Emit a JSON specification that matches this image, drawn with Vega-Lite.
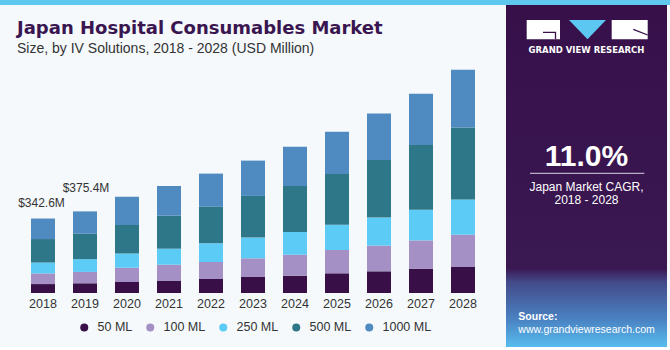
{
  "$schema": "https://vega.github.io/schema/vega-lite/v6.json",
  "background": "#f5f9fc",
  "padding": 0,
  "spacing": 0,
  "bounds": "flush",
  "config": {
    "view": {"stroke": null},
    "font": "Liberation Sans",
    "concat": {"spacing": 0}
  },
  "vconcat": [
    {
      "width": 670,
      "height": 5,
      "data": {"values": [{}]},
      "mark": {"type": "rect", "fill": "#5ec8ef"},
      "encoding": {}
    },
    {
      "spacing": 0,
      "bounds": "flush",
      "hconcat": [
        {
          "width": 506,
          "height": 288,
          "title": {
            "text": "Japan Hospital Consumables Market",
            "subtitle": "Size, by IV Solutions, 2018 - 2028 (USD Million)",
            "anchor": "start",
            "frame": "group",
            "orient": "top",
            "offset": -51,
            "dx": 17,
            "font": "DejaVu Sans",
            "fontSize": 18,
            "fontWeight": "bold",
            "color": "#3a1650",
            "subtitleFont": "Liberation Sans",
            "subtitleFontSize": 14,
            "subtitleColor": "#333333",
            "subtitlePadding": 4
          },
          "layer": [
            {
              "data": {"values": [
                {"year": "2018", "series": "50 ML", "ml": 50, "value": 41.1},
                {"year": "2018", "series": "100 ML", "ml": 100, "value": 48.8},
                {"year": "2018", "series": "250 ML", "ml": 250, "value": 50.2},
                {"year": "2018", "series": "500 ML", "ml": 500, "value": 108.1},
                {"year": "2018", "series": "1000 ML", "ml": 1000, "value": 94.4},
                {"year": "2019", "series": "50 ML", "ml": 50, "value": 44.8},
                {"year": "2019", "series": "100 ML", "ml": 100, "value": 52.2},
                {"year": "2019", "series": "250 ML", "ml": 250, "value": 58.6},
                {"year": "2019", "series": "500 ML", "ml": 500, "value": 116.8},
                {"year": "2019", "series": "1000 ML", "ml": 1000, "value": 103.0},
                {"year": "2020", "series": "50 ML", "ml": 50, "value": 50.6},
                {"year": "2020", "series": "100 ML", "ml": 100, "value": 65.8},
                {"year": "2020", "series": "250 ML", "ml": 250, "value": 65.8},
                {"year": "2020", "series": "500 ML", "ml": 500, "value": 130.2},
                {"year": "2020", "series": "1000 ML", "ml": 1000, "value": 130.2},
                {"year": "2021", "series": "50 ML", "ml": 50, "value": 55.2},
                {"year": "2021", "series": "100 ML", "ml": 100, "value": 75.0},
                {"year": "2021", "series": "250 ML", "ml": 250, "value": 73.6},
                {"year": "2021", "series": "500 ML", "ml": 500, "value": 151.8},
                {"year": "2021", "series": "1000 ML", "ml": 1000, "value": 136.6},
                {"year": "2022", "series": "50 ML", "ml": 50, "value": 64.4},
                {"year": "2022", "series": "100 ML", "ml": 100, "value": 78.2},
                {"year": "2022", "series": "250 ML", "ml": 250, "value": 86.0},
                {"year": "2022", "series": "500 ML", "ml": 500, "value": 168.8},
                {"year": "2022", "series": "1000 ML", "ml": 1000, "value": 151.8},
                {"year": "2023", "series": "50 ML", "ml": 50, "value": 73.6},
                {"year": "2023", "series": "100 ML", "ml": 100, "value": 86.0},
                {"year": "2023", "series": "250 ML", "ml": 250, "value": 95.2},
                {"year": "2023", "series": "500 ML", "ml": 500, "value": 191.8},
                {"year": "2023", "series": "1000 ML", "ml": 1000, "value": 162.4},
                {"year": "2024", "series": "50 ML", "ml": 50, "value": 79.6},
                {"year": "2024", "series": "100 ML", "ml": 100, "value": 96.6},
                {"year": "2024", "series": "250 ML", "ml": 250, "value": 104.4},
                {"year": "2024", "series": "500 ML", "ml": 500, "value": 211.6},
                {"year": "2024", "series": "1000 ML", "ml": 1000, "value": 180.8},
                {"year": "2025", "series": "50 ML", "ml": 50, "value": 90.6},
                {"year": "2025", "series": "100 ML", "ml": 100, "value": 107.2},
                {"year": "2025", "series": "250 ML", "ml": 250, "value": 116.4},
                {"year": "2025", "series": "500 ML", "ml": 500, "value": 233.2},
                {"year": "2025", "series": "1000 ML", "ml": 1000, "value": 194.6},
                {"year": "2026", "series": "50 ML", "ml": 50, "value": 99.8},
                {"year": "2026", "series": "100 ML", "ml": 100, "value": 118.2},
                {"year": "2026", "series": "250 ML", "ml": 250, "value": 128.8},
                {"year": "2026", "series": "500 ML", "ml": 500, "value": 265.4},
                {"year": "2026", "series": "1000 ML", "ml": 1000, "value": 213.0},
                {"year": "2027", "series": "50 ML", "ml": 50, "value": 111.8},
                {"year": "2027", "series": "100 ML", "ml": 100, "value": 130.2},
                {"year": "2027", "series": "250 ML", "ml": 250, "value": 141.2},
                {"year": "2027", "series": "500 ML", "ml": 500, "value": 297.6},
                {"year": "2027", "series": "1000 ML", "ml": 1000, "value": 236.0},
                {"year": "2028", "series": "50 ML", "ml": 50, "value": 119.6},
                {"year": "2028", "series": "100 ML", "ml": 100, "value": 148.6},
                {"year": "2028", "series": "250 ML", "ml": 250, "value": 162.4},
                {"year": "2028", "series": "500 ML", "ml": 500, "value": 331.2},
                {"year": "2028", "series": "1000 ML", "ml": 1000, "value": 265.4}
              ]},
              "mark": {"type": "bar"},
              "encoding": {
                "x": {
                  "field": "year",
                  "type": "ordinal",
                  "scale": {"paddingInner": 0.428571, "paddingOuter": 0.738095},
                  "axis": {
                    "title": null,
                    "domain": false,
                    "ticks": false,
                    "labelAngle": 0,
                    "labelFont": "Liberation Sans",
                    "labelFontSize": 12.5,
                    "labelColor": "#333333",
                    "labelPadding": 4.5
                  }
                },
                "y": {
                  "field": "value",
                  "type": "quantitative",
                  "stack": "zero",
                  "scale": {"domain": [0, 1324.8], "nice": false, "zero": true},
                  "axis": null
                },
                "color": {
                  "field": "series",
                  "type": "nominal",
                  "scale": {
                    "domain": ["50 ML", "100 ML", "250 ML", "500 ML", "1000 ML"],
                    "range": ["#380f47", "#a490c5", "#5ccbf5", "#2e7789", "#4f8bc0"]
                  },
                  "legend": {
                    "title": null,
                    "orient": "none",
                    "direction": "horizontal",
                    "legendX": 78,
                    "legendY": 321,
                    "padding": 0,
                    "symbolType": "circle",
                    "symbolSize": 64,
                    "symbolStrokeWidth": 0,
                    "symbolOpacity": 1,
                    "labelFont": "Liberation Sans",
                    "labelFontSize": 12.5,
                    "labelColor": "#333333",
                    "labelOffset": 7,
                    "columnPadding": 11
                  }
                },
                "order": {"field": "ml", "type": "quantitative", "sort": "ascending"}
              }
            },
            {
              "data": {"values": [{"year": "2018", "total": 342.6, "label": "$342.6M"}]},
              "mark": {"type": "text", "baseline": "alphabetic", "dy": -11.5, "dx": -1.5, "fontSize": 12, "color": "#333333", "font": "Liberation Sans"},
              "encoding": {
                "x": {"field": "year", "type": "ordinal"},
                "y": {"field": "total", "type": "quantitative"},
                "text": {"field": "label"}
              }
            },
            {
              "data": {"values": [{"year": "2019", "total": 375.4, "label": "$375.4M"}]},
              "mark": {"type": "text", "baseline": "alphabetic", "dy": -19.4, "dx": 1, "fontSize": 12, "color": "#333333", "font": "Liberation Sans"},
              "encoding": {
                "x": {"field": "year", "type": "ordinal"},
                "y": {"field": "total", "type": "quantitative"},
                "text": {"field": "label"}
              }
            }
          ]
        },
        {
          "width": 161,
          "height": 342,
          "view": {"fill": "#38104a", "stroke": null},
          "layer": [
            {
              "data": {"values": [{}]},
              "mark": {
                "type": "rect",
                "fill": {
                  "gradient": "linear",
                  "x1": 0, "y1": 0, "x2": 0, "y2": 1,
                  "stops": [
                    {"offset": 0, "color": "#37104a"},
                    {"offset": 0.77, "color": "#3a1852"},
                    {"offset": 0.81, "color": "#434a8a"},
                    {"offset": 0.92, "color": "#4a82c2"},
                    {"offset": 1, "color": "#58bdf0"}
                  ]
                }
              },
              "encoding": {}
            },
            {
              "data": {"values": [{}]},
              "mark": {"type": "point", "shape": "M-59.8,-156H-26.5V-136.7H-59.8Z M25.2,-156H61.2V-136.7H25.2Z", "size": 4, "filled": true, "fill": "#ffffff", "strokeWidth": 0, "opacity": 1},
              "encoding": {}
            },
            {
              "data": {"values": [{}]},
              "mark": {"type": "point", "shape": "M-43.5,-143.7H-31V-136.7 M46.8,-146.7L61.2,-141", "size": 4, "filled": false, "stroke": "#38104a", "strokeWidth": 1.3, "opacity": 1},
              "encoding": {}
            },
            {
              "data": {"values": [{}]},
              "mark": {"type": "point", "shape": "M-17.5,-156H19.5L1,-136.7Z", "size": 4, "filled": true, "fill": "#5cc8f2", "strokeWidth": 0, "opacity": 1},
              "encoding": {}
            },
            {
              "data": {"values": [{}]},
              "mark": {"type": "text", "text": "GRAND VIEW RESEARCH", "font": "DejaVu Sans", "fontWeight": "bold", "fontSize": 8.5, "color": "#ffffff", "baseline": "alphabetic", "align": "center", "dy": -122.7},
              "encoding": {}
            },
            {
              "data": {"values": [{}]},
              "mark": {"type": "text", "text": "11.0%", "font": "Liberation Sans", "fontWeight": "bold", "fontSize": 30, "color": "#ffffff", "baseline": "alphabetic", "align": "center", "dy": -10.3},
              "encoding": {}
            },
            {
              "data": {"values": [{}]},
              "mark": {"type": "point", "shape": "M-56.5,-2.7H57.8", "size": 4, "filled": false, "stroke": "#d9d2e2", "strokeWidth": 1, "opacity": 1},
              "encoding": {}
            },
            {
              "data": {"values": [{}]},
              "mark": {"type": "text", "text": "Japan Market CAGR,", "font": "Liberation Sans", "fontSize": 12, "color": "#ffffff", "baseline": "alphabetic", "align": "center", "dy": 14.7},
              "encoding": {}
            },
            {
              "data": {"values": [{}]},
              "mark": {"type": "text", "text": "2018 - 2028", "font": "Liberation Sans", "fontSize": 12, "color": "#ffffff", "baseline": "alphabetic", "align": "center", "dy": 28},
              "encoding": {}
            },
            {
              "data": {"values": [{}]},
              "mark": {"type": "text", "text": "Source:", "font": "Liberation Sans", "fontWeight": "bold", "fontSize": 10.5, "color": "#ffffff", "baseline": "alphabetic", "align": "left", "dx": -68.2, "dy": 144},
              "encoding": {}
            },
            {
              "data": {"values": [{}]},
              "mark": {"type": "text", "text": "www.grandviewresearch.com", "font": "Liberation Sans", "fontSize": 10.5, "color": "#ffffff", "baseline": "alphabetic", "align": "left", "dx": -68.2, "dy": 156.7},
              "encoding": {}
            }
          ]
        }
      ]
    }
  ]
}
